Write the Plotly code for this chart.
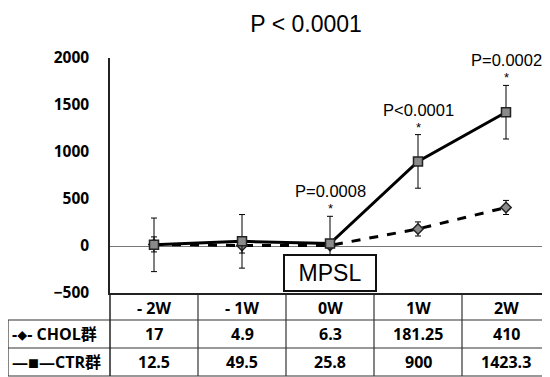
import plotly.graph_objects as go

categories = ["- 2W", "- 1W", "0W", "1W", "2W"]
chol_values = [17, 4.9, 6.3, 181.25, 410]
ctr_values = [12.5, 49.5, 25.8, 900, 1423.3]
chol_err = [80, 80, 30, 75, 75]
ctr_err = [285, 285, 290, 285, 285]
chol_labels = ["17", "4.9", "6.3", "181.25", "410"]
ctr_labels = ["12.5", "49.5", "25.8", "900", "1423.3"]
p_labels = {"0W": "P=0.0008", "1W": "P<0.0001", "2W": "P=0.0002"}
title_text = "P < 0.0001"
y_ticks = [-500, 0, 500, 1000, 1500, 2000]

fig = go.Figure()
fig.add_trace(go.Scatter(
    x=categories, y=chol_values, mode="lines+markers", name="CHOL群",
    line=dict(color="black", width=3, dash="dash"),
    marker=dict(symbol="diamond", size=8, color="#8a8a8a", line=dict(color="#222", width=1.5)),
    error_y=dict(type="data", array=chol_err, color="black", thickness=1, width=3),
    cliponaxis=False,
))
fig.add_trace(go.Scatter(
    x=categories, y=ctr_values, mode="lines+markers", name="CTR群",
    line=dict(color="black", width=3),
    marker=dict(symbol="square", size=9, color="#8a8a8a", line=dict(color="#222", width=1.5)),
    error_y=dict(type="data", array=ctr_err, color="black", thickness=1, width=3),
    cliponaxis=False,
))

ann = []
for i, c in enumerate(categories):
    if c in p_labels:
        top = ctr_values[i] + ctr_err[i]
        ann.append(dict(x=c, y=top, xref="x", yref="y", text="*", showarrow=False,
                        yanchor="bottom", yshift=-2, font=dict(family="Liberation Sans", size=13, color="black")))
        ann.append(dict(x=c, y=top, xref="x", yref="y", text=p_labels[c], showarrow=False,
                        yanchor="bottom", yshift=14, font=dict(family="Liberation Sans", size=16.5, color="black")))

ann.append(dict(x="0W", y=-500, xref="x", yref="y", text="MPSL", showarrow=False,
                yanchor="bottom", yshift=1, width=88, height=32, borderpad=1,
                bordercolor="#111", borderwidth=2, bgcolor="white",
                font=dict(family="Liberation Sans", size=23, color="black")))

ph = 235.0
def py(p):
    return (293 - p) / ph

tfont = dict(family="Open Sans", size=16, color="black", weight=700)
row_header, row_chol, row_ctr = py(307.5), py(334), py(362)
for i, c in enumerate(categories):
    for yy, txt in ((row_header, c), (row_chol, chol_labels[i]), (row_ctr, ctr_labels[i])):
        ann.append(dict(x=c, y=yy, xref="x", yref="paper", text=txt, showarrow=False,
                        xanchor="center", yanchor="middle", font=tfont))
left = (10 - 110) / 440.0
lfont = dict(family="Open Sans, Noto Sans CJK JP", size=16, color="black", weight=700)
ann.append(dict(x=left, y=row_chol, xref="paper", yref="paper", xanchor="left", yanchor="middle",
                text="-<span style='font-size:10px'>◆</span>- CHOL群", showarrow=False, font=lfont))
ann.append(dict(x=left, y=row_ctr, xref="paper", yref="paper", xanchor="left", yanchor="middle",
                text="—<span style='font-size:11px'>■</span>—CTR群", showarrow=False, font=lfont))

shapes = []
lc = dict(color="#333", width=1.2)
edge = (8 - 110) / 440.0
for p in (320, 348, 376):
    shapes.append(dict(type="line", xref="paper", yref="paper", x0=edge, x1=1.0,
                       y0=py(p), y1=py(p), line=lc))
shapes.append(dict(type="line", xref="paper", yref="paper", x0=edge, x1=edge,
                   y0=py(320), y1=py(376), line=lc))
shapes.append(dict(type="line", xref="paper", yref="paper", x0=0, x1=0,
                   y0=0, y1=py(376), line=dict(color="#222", width=1.5)))
for i in range(len(categories) - 1):
    shapes.append(dict(type="line", xref="x", yref="paper", x0=i + 0.5, x1=i + 0.5,
                       y0=py(295), y1=py(376), line=lc))

fig.update_layout(
    width=542, height=369,
    margin=dict(l=102, r=0, t=50, b=84),
    paper_bgcolor="white", plot_bgcolor="white",
    showlegend=False,
    title=dict(text=title_text, x=0.55, xanchor="center", y=0.958, yanchor="middle",
               font=dict(family="Liberation Sans", size=23, color="black")),
    annotations=ann, shapes=shapes,
    xaxis=dict(type="category", range=[-0.5, 4.5], showticklabels=False, ticks="",
               showgrid=False, showline=True, linecolor="#222", linewidth=1.5, zeroline=False),
    yaxis=dict(range=[-500, 2000], tickvals=y_ticks, showgrid=False, ticks="",
               ticklabelstandoff=16,
               showline=True, linecolor="#222", linewidth=1.5,
               zeroline=True, zerolinecolor="#777", zerolinewidth=1,
               tickfont=dict(family="Open Sans", size=15.5, color="black", weight=700)),
)

fig.write_html("out.html")
